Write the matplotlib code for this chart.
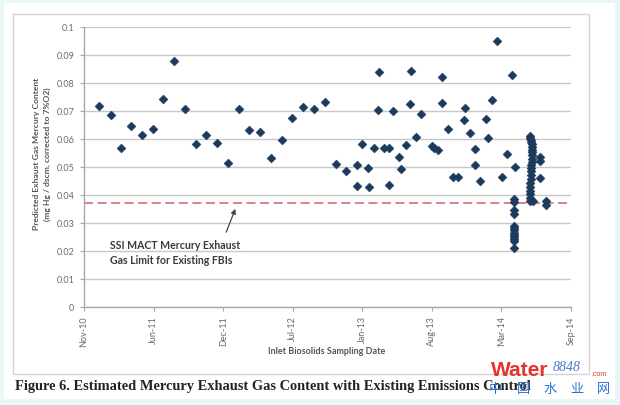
import matplotlib
matplotlib.use('Agg')
import matplotlib.pyplot as plt
import matplotlib.dates as mdates
from matplotlib.patches import Rectangle
import pandas as pd

# ---------------- data ----------------
start_date = '2010-11-20'          # first axis tick (Nov-10)
tick_step_days = 200               # axis major unit
n_ticks = 8
sample_days = [44, 77, 106, 135, 166, 198, 228, 260, 291, 322, 352, 382, 414, 447, 474,
               507, 537, 568, 598, 630, 661, 692, 724, 754, 785, 785, 799, 816, 820, 834,
               845, 848, 863, 876, 877, 889, 906, 912, 926, 937, 939, 954, 969, 1000, 1007,
               1019, 1030, 1030, 1047, 1060, 1075, 1093, 1095, 1110, 1124, 1124, 1139, 1156,
               1161, 1174, 1188, 1203, 1216, 1231, 1239,
               1237, 1237, 1237, 1237, 1237, 1237, 1237, 1237, 1237, 1237, 1237, 1237, 1237,
               1281, 1282, 1285, 1285, 1288, 1288, 1289, 1288, 1287, 1288, 1288, 1285, 1285,
               1285, 1284, 1284, 1282, 1282, 1281, 1281, 1282, 1291, 1282,
               1311, 1311, 1311, 1328, 1328]
mercury = [0.0717, 0.0687, 0.0567, 0.0645, 0.0614, 0.0636, 0.0744, 0.0879, 0.0706, 0.0583,
           0.0614, 0.0586, 0.0515, 0.0708, 0.0632, 0.0626, 0.0533, 0.0595, 0.0676, 0.0715,
           0.0706, 0.0733, 0.0511, 0.0487, 0.0507, 0.0433, 0.0583, 0.0496, 0.0430, 0.0568,
           0.0705, 0.0838, 0.0569, 0.0569, 0.0437, 0.0700, 0.0537, 0.0493, 0.0579, 0.0725,
           0.0842, 0.0608, 0.0689, 0.0574, 0.0569, 0.0561, 0.0821, 0.0729, 0.0636, 0.0463,
           0.0463, 0.0668, 0.0712, 0.0621, 0.0564, 0.0507, 0.0451, 0.0671, 0.0604, 0.0741,
           0.0950, 0.0463, 0.0546, 0.0830, 0.0501,
           0.0385, 0.0375, 0.0345, 0.0332, 0.0290, 0.0282, 0.0274, 0.0266, 0.0258, 0.0250,
           0.0242, 0.0234, 0.0210,
           0.0612, 0.0605, 0.0598, 0.0590, 0.0582, 0.0572, 0.0562, 0.0552, 0.0542, 0.0530,
           0.0518, 0.0507, 0.0496, 0.0485, 0.0472, 0.0458, 0.0444, 0.0430, 0.0416, 0.0402,
           0.0390, 0.0380, 0.0378,
           0.0535, 0.0523, 0.0460, 0.0377, 0.0366]
limit_value = 0.037
y_ticks = [0, 0.01, 0.02, 0.03, 0.04, 0.05, 0.06, 0.07, 0.08, 0.09, 0.1]
y_tick_labels = ['0', '0.01', '0.02', '0.03', '0.04', '0.05', '0.06', '0.07', '0.08', '0.09', '0.1']

y_label = 'Predicted Exhaust Gas Mercury Content\n(mg Hg / dscm, corrected to 7%O2)'
x_label = 'Inlet Biosolids Sampling Date'
annot_text = 'SSI MACT Mercury Exhaust\nGas Limit for Existing FBIs'
caption = 'Figure 6. Estimated Mercury Exhaust Gas Content with Existing Emissions Control'

# ---------------- figure ----------------
W, H = 620, 406
fig = plt.figure(figsize=(W / 100, H / 100), dpi=100, facecolor='#eaf7f7')

def fx(px):
    return px / W

def fy(py):
    return 1 - py / H

# white page panel
fig.patches.append(Rectangle((fx(4), fy(400)), fx(611), 396 / H, transform=fig.transFigure,
                             facecolor='white', edgecolor='none', zorder=-2))
# chart frame
fig.patches.append(Rectangle((fx(13), fy(375)), fx(576), 360 / H, transform=fig.transFigure,
                             facecolor='none', edgecolor='#d4d4d4', lw=1.0, zorder=-1))

ax = fig.add_axes([fx(84), fy(308), fx(571 - 84), 280 / H])
ax.set_facecolor('none')

start = pd.Timestamp(start_date)
dates = [start + pd.Timedelta(days=d) for d in sample_days]
tick_dates = [start + pd.Timedelta(days=tick_step_days * k) for k in range(n_ticks)]

ax.scatter(dates, mercury, marker='D', s=21, color='#1b3a5c', edgecolors='#1b3a5c',
           linewidths=0.3, zorder=3)
ax.axhline(limit_value, color='#d77a78', ls=(0, (5, 2.5)), lw=1.3, zorder=2)

ax.set_xlim(tick_dates[0], tick_dates[-1])
ax.set_ylim(0, 0.1)
ax.set_xticks(tick_dates)
ax.xaxis.set_major_formatter(mdates.DateFormatter('%b-%y'))
ax.set_yticks(y_ticks)
ax.set_yticklabels(y_tick_labels)

ax.grid(axis='y', color='#c8c8c8', lw=1.0, zorder=0)
ax.set_axisbelow(True)
for s in ['top', 'right']:
    ax.spines[s].set_visible(False)
for s in ['left', 'bottom']:
    ax.spines[s].set_color('#a8a8a8')
    ax.spines[s].set_linewidth(1.0)

ax.tick_params(axis='both', colors='#a8a8a8', labelcolor='#6a6a6a', labelsize=6.5,
               length=3, width=0.8)
ax.tick_params(axis='x', labelrotation=90, pad=3)
ax.tick_params(axis='y', pad=4)
for lab in ax.get_xticklabels() + ax.get_yticklabels():
    lab.set_family('Lato')

fig.text(fx(42), fy(154), y_label, rotation=90, ha='center', va='center', fontsize=6.1,
         fontweight='bold', color='#555555', family='Lato', linespacing=1.6)
fig.text(fx(327), fy(352), x_label, ha='center', va='center', fontsize=6.5,
         fontweight='bold', color='#555555', family='Lato')

# annotation for limit line
ax.annotate('', xy=(start + pd.Timedelta(days=438), limit_value - 0.0010),
            xytext=(start + pd.Timedelta(days=406), 0.0258),
            arrowprops=dict(arrowstyle='-|>', color='#444444', lw=0.9, mutation_scale=7))
fig.text(fx(110), fy(253), annot_text, ha='left', va='center', fontsize=7.6,
         fontweight='bold', color='#3a3a3a', family='Lato', linespacing=1.45)

# caption
fig.text(fx(15), fy(387), caption, ha='left', va='center', fontsize=10.4,
         fontweight='bold', color='#222222', family='Liberation Serif')

# watermark
fig.text(fx(491), fy(371), 'Water', ha='left', va='center', fontsize=15, fontweight='bold',
         color='#e5342b', family='Liberation Sans')
fig.text(fx(553), fy(368), '8848', ha='left', va='center', fontsize=10, style='italic',
         color='#4d79c7', family='Liberation Serif')
fig.text(fx(591), fy(375), '.com', ha='left', va='center', fontsize=5, color='#e5342b',
         family='Liberation Sans')
for ch, px in zip('中国水业网', [495, 523, 550, 577, 603]):
    fig.text(fx(px), fy(390), ch, ha='center', va='center', fontsize=9.5, color='#2f6fd0',
             family=['Noto Sans CJK SC', 'DejaVu Sans'])

fig.savefig('out.png', dpi=100, facecolor=fig.get_facecolor())
